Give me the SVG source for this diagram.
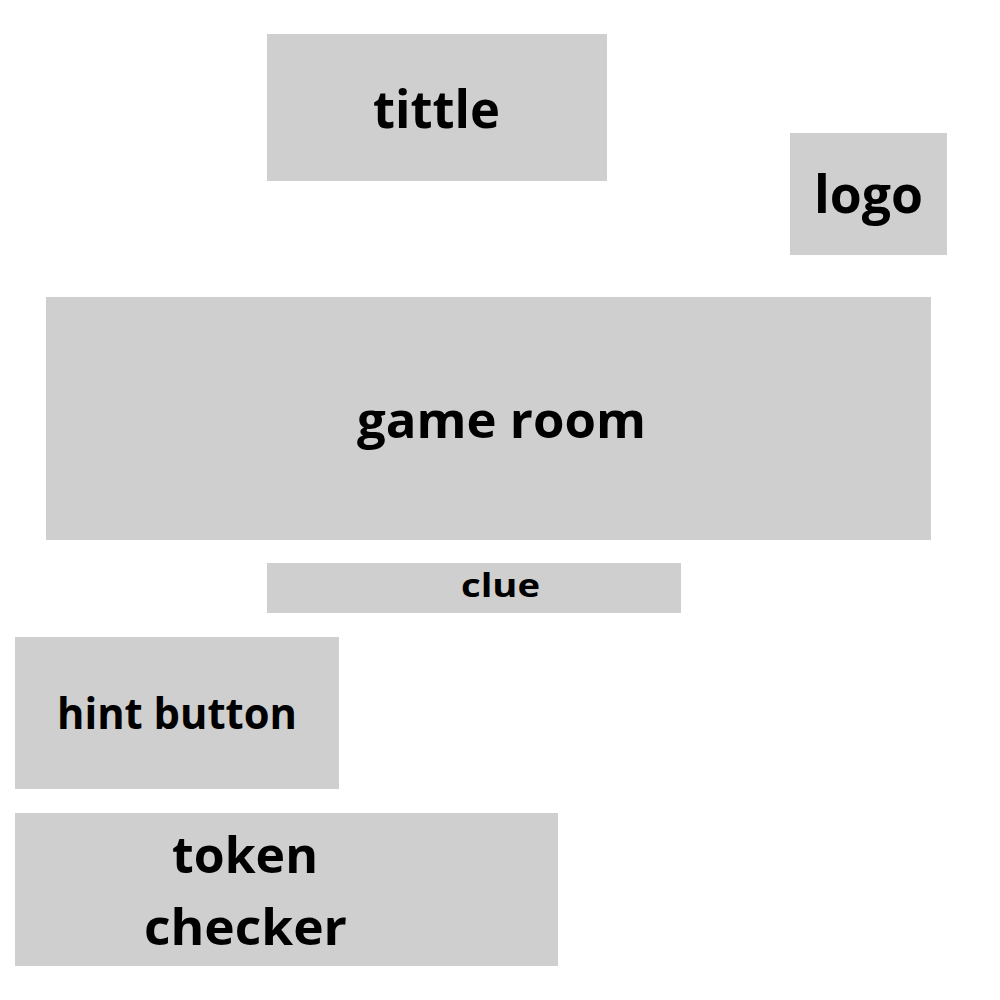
<svg xmlns="http://www.w3.org/2000/svg" width="1000" height="1000" viewBox="0 0 1000 1000">
<style>
.box{fill:#cfcfcf}
.t{font-family:"Open Sans","Noto Sans",sans-serif;font-weight:700;fill:#000;text-anchor:middle}
</style>
<rect width="1000" height="1000" fill="#fff"/>
<g id="tittle"><rect class="box" x="267" y="34" width="340" height="147"/><text class="t" x="436.5" y="128" font-size="52" textLength="127" lengthAdjust="spacingAndGlyphs">tittle</text></g>
<g id="logo"><rect class="box" x="790" y="133" width="157" height="122"/><text class="t" x="868.5" y="213" font-size="52" textLength="109" lengthAdjust="spacingAndGlyphs">logo</text></g>
<g id="game-room"><rect class="box" x="46" y="297" width="885" height="243"/><text class="t" x="501.5" y="438" font-size="51" textLength="289" lengthAdjust="spacingAndGlyphs">game room</text></g>
<g id="clue"><rect class="box" x="267" y="563" width="414" height="50"/><text class="t" x="500.5" y="597" font-size="33" textLength="79" lengthAdjust="spacingAndGlyphs">clue</text></g>
<g id="hint-button"><rect class="box" x="15" y="637" width="324" height="152"/><text class="t" x="177" y="729" font-size="43" textLength="240" lengthAdjust="spacingAndGlyphs">hint button</text></g>
<g id="token-checker"><rect class="box" x="15" y="813" width="543" height="153"/><text class="t" x="245" y="873" font-size="51" textLength="146" lengthAdjust="spacingAndGlyphs">token</text><text class="t" x="245.5" y="945" font-size="51" textLength="203" lengthAdjust="spacingAndGlyphs">checker</text></g>
<g id="connectors"/>
</svg>
